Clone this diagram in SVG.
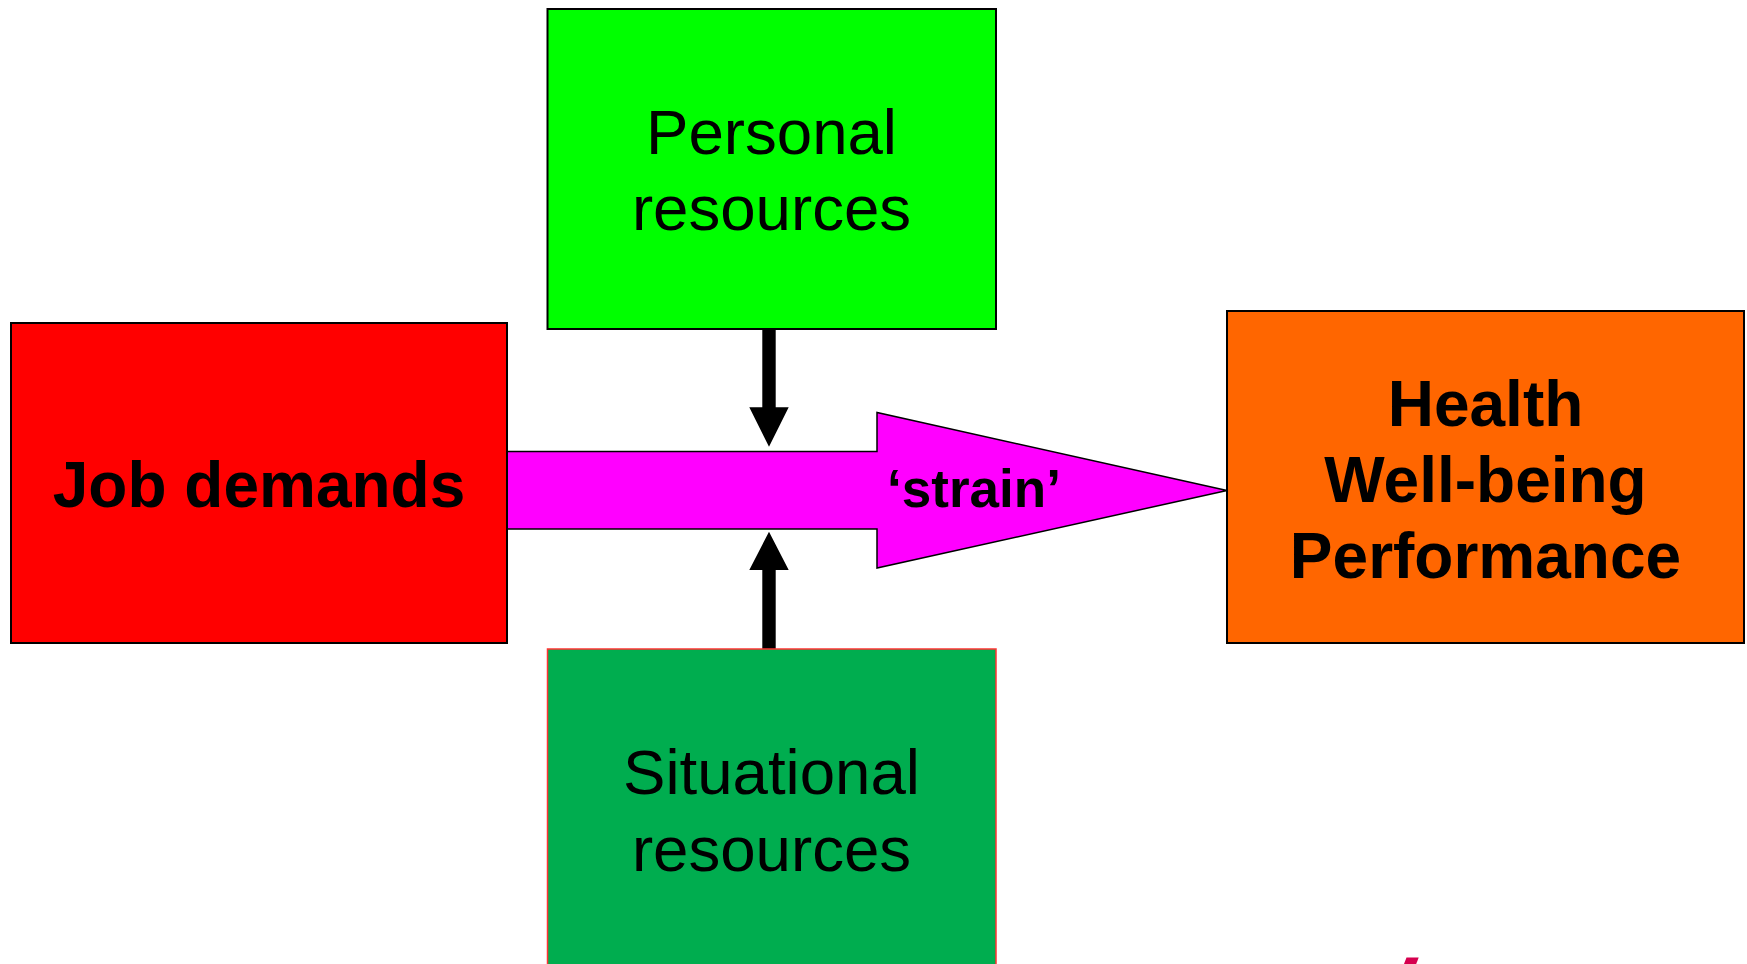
<svg xmlns="http://www.w3.org/2000/svg" width="1747" height="964" viewBox="0 0 1747 964">
  <style>
    .box { stroke: #000; stroke-width: 2; }
    .lbl { font-family: "Liberation Sans", Arial, sans-serif; fill: #000; text-anchor: middle; }
    .reg { font-size: 63.6px; }
    .bold { font-weight: bold; font-size: 64px; }
  </style>
  <rect width="1747" height="964" fill="#fff"/>

  <!-- connectors: main strain arrow and the two moderating arrows -->
  <g id="connectors">
    <polygon id="strain-arrow" points="500,451.5 877,451.5 877,412.5 1227,490.5 877,568 877,529 500,529" fill="#ff00ff" stroke="#000" stroke-width="1.5"/>
    <text class="lbl" x="974" y="506.5" font-size="53" font-weight="bold">‘strain’</text>
    <polygon id="arrow-personal" points="762.3,329 775.7,329 775.7,407.3 788.7,407.3 769,446.7 749.3,407.3 762.3,407.3" fill="#000"/>
    <polygon id="arrow-situational" points="762.3,649 775.7,649 775.7,570 788.7,570 769,531.7 749.3,570 762.3,570" fill="#000"/>
  </g>

  <g id="job-demands">
    <rect class="box" x="11" y="323" width="496" height="320" fill="#ff0000"/>
    <text class="lbl bold" x="259" y="506.5">Job demands</text>
  </g>

  <g id="personal-resources">
    <rect class="box" x="547.5" y="9" width="448.5" height="320" fill="#00ff00"/>
    <text class="lbl reg" x="771.5" y="154.3">Personal</text>
    <text class="lbl reg" x="771.5" y="230.3">resources</text>
  </g>

  <g id="situational-resources">
    <rect x="547.5" y="649" width="448.5" height="330" fill="#00ad4f" stroke="#ff3333" stroke-width="1.5"/>
    <text class="lbl reg" x="771.5" y="794.3">Situational</text>
    <text class="lbl reg" x="771.5" y="870.7">resources</text>
  </g>

  <g id="outcomes">
    <rect class="box" x="1227" y="311" width="517" height="332" fill="#ff6600" stroke="#222"/>
    <text class="lbl bold" x="1485.5" y="425.7">Health</text>
    <text class="lbl bold" x="1485.5" y="501.7">Well-being</text>
    <text class="lbl bold" x="1485.5" y="578.3">Performance</text>
  </g>

  <!-- small crimson mark at the lower edge -->
  <polygon points="1406.5,957.5 1418.7,957.5 1416.2,964 1404,964" fill="#d6004f"/>
</svg>
